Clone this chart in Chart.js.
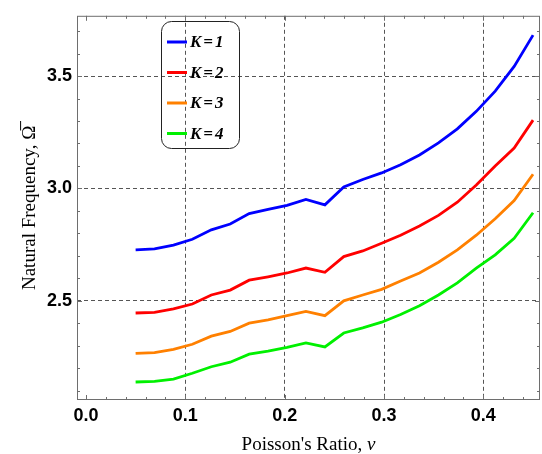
<!DOCTYPE html>
<html>
<head>
<meta charset="utf-8">
<script src="https://cdn.jsdelivr.net/npm/chart.js@4.4.0/dist/chart.umd.min.js"></script>
<style>
  body { margin: 0; background: #fff; }
</style>
</head>
<body>
<canvas id="myChart" width="542" height="454"></canvas>
<script>
// Poisson's ratio samples (x)
const poisson = [0.05, 0.069, 0.0881, 0.1071, 0.1262, 0.1452, 0.1643, 0.1833, 0.2024, 0.2214, 0.2405,
                 0.2595, 0.2786, 0.2976, 0.3167, 0.3357, 0.3548, 0.3738, 0.3929, 0.4119, 0.431, 0.45];

// natural frequency for each K
const freqK1 = [2.727, 2.731, 2.748, 2.774, 2.816, 2.842, 2.888, 2.907, 2.925, 2.951, 2.927,
                3.007, 3.040, 3.069, 3.105, 3.149, 3.203, 3.265, 3.343, 3.433, 3.543, 3.682];
const freqK2 = [2.446, 2.449, 2.464, 2.486, 2.526, 2.548, 2.592, 2.607, 2.624, 2.646, 2.627,
                2.697, 2.722, 2.756, 2.792, 2.833, 2.880, 2.939, 3.015, 3.100, 3.180, 3.304];
const freqK3 = [2.266, 2.270, 2.284, 2.307, 2.343, 2.364, 2.401, 2.415, 2.434, 2.453, 2.434,
                2.500, 2.526, 2.551, 2.588, 2.624, 2.672, 2.727, 2.792, 2.865, 2.946, 3.063];
const freqK4 = [2.139, 2.142, 2.152, 2.178, 2.207, 2.227, 2.263, 2.276, 2.293, 2.313, 2.295,
                2.357, 2.380, 2.405, 2.439, 2.478, 2.526, 2.580, 2.646, 2.705, 2.778, 2.892];

const seriesNames = ['K=1', 'K=2', 'K=3', 'K=4'];
const seriesColors = ['rgb(0,0,255)', 'rgb(255,0,0)', 'rgb(255,128,0)', 'rgb(0,240,0)'];

const xTickValues = [0, 0.1, 0.2, 0.3, 0.4];
const yTickValues = [2.5, 3.0, 3.5];

const toPoints = ys => poisson.map((x, i) => ({ x: x, y: ys[i] }));

// frame round the plot with small ticks on all four sides
const framePlugin = {
    id: 'frame',
    afterDatasetsDraw(chart) {
        const { ctx, chartArea: a, scales: { x, y } } = chart;
        ctx.save();
        ctx.strokeStyle = '#6e6e6e';
        ctx.lineWidth = 1;
        ctx.strokeRect(a.left + 0.5, a.top + 0.5, a.right - a.left - 1, a.bottom - a.top - 1);
        ctx.beginPath();
        for (let i = 0; i <= 22; i++) {
            const px = Math.round(x.getPixelForValue(i * 0.02)) + 0.5;
            const len = i % 5 === 0 ? 5 : 3;
            ctx.moveTo(px, a.bottom); ctx.lineTo(px, a.bottom - len);
            ctx.moveTo(px, a.top); ctx.lineTo(px, a.top + len);
        }
        for (let i = 21; i <= 37; i++) {
            const py = Math.round(y.getPixelForValue(i / 10)) + 0.5;
            const len = i % 5 === 0 ? 5 : 3;
            ctx.moveTo(a.left, py); ctx.lineTo(a.left + len, py);
            ctx.moveTo(a.right, py); ctx.lineTo(a.right - len, py);
        }
        ctx.stroke();

        // x title, with the nu in italics
        const a1 = "Poisson's Ratio, ";
        const a2 = 'ν';
        const cx = (a.left + a.right) / 2;
        ctx.fillStyle = '#000';
        ctx.textBaseline = 'alphabetic';
        ctx.font = '19px "Liberation Serif"';
        const w1 = ctx.measureText(a1).width;
        ctx.font = 'italic 19px "Liberation Serif"';
        const w2 = ctx.measureText(a2).width;
        const x0 = cx - (w1 + w2) / 2;
        ctx.font = '19px "Liberation Serif"';
        ctx.fillText(a1, x0, 450);
        ctx.font = 'italic 19px "Liberation Serif"';
        ctx.fillText(a2, x0 + w1, 450);
        ctx.restore();
    }
};

// legend box drawn inside the plot, no fill
const boxLegend = {
    id: 'boxLegend',
    afterDraw(chart) {
        const ctx = chart.ctx;
        ctx.save();
        ctx.strokeStyle = '#222';
        ctx.lineWidth = 1;
        ctx.beginPath();
        ctx.roundRect(161.5, 21.5, 78, 127, 10);
        ctx.stroke();
        ctx.font = 'italic bold 17px "Liberation Serif"';
        ctx.textBaseline = 'middle';
        ctx.letterSpacing = '2px';
        chart.data.datasets.forEach((ds, i) => {
            const cy = 42 + i * 30.5;
            ctx.strokeStyle = ds.borderColor;
            ctx.lineWidth = 3;
            ctx.beginPath();
            ctx.moveTo(167, cy);
            ctx.lineTo(187, cy);
            ctx.stroke();
            ctx.fillStyle = '#000';
            ctx.fillText(ds.label, 190, cy + 1);
        });
        ctx.restore();
    }
};

const ctx = document.getElementById('myChart');
const chart = new Chart(ctx, {
    type: 'line',
    data: {
        datasets: [freqK1, freqK2, freqK3, freqK4].map((ys, i) => ({
            label: seriesNames[i],
            data: toPoints(ys),
            borderColor: seriesColors[i],
            borderWidth: 2.8,
            pointRadius: 0,
            tension: 0
        }))
    },
    options: {
        responsive: false,
        animation: false,
        layout: { padding: { top: 11, right: 2, left: 0, bottom: 0 } },
        plugins: { legend: { display: false }, tooltip: { enabled: false } },
        scales: {
            x: {
                type: 'linear',
                min: -0.009,
                max: 0.457,
                afterBuildTicks: s => { s.ticks = xTickValues.map(v => ({ value: v })); },
                afterFit: s => { s.height = 54; },
                ticks: {
                    callback: v => v.toFixed(1),
                    color: '#000',
                    font: { family: '"Liberation Sans"', size: 18, weight: 'bold' },
                    padding: 5,
                    maxRotation: 0
                },
                grid: {
                    color: c => (c.tick && c.tick.value === 0) ? 'rgba(0,0,0,0)' : '#555',
                    lineWidth: 1,
                    drawTicks: false
                },
                border: { display: false, dash: [4, 3] },
                title: { display: false }
            },
            y: {
                min: 2.059,
                max: 3.768,
                afterBuildTicks: s => { s.ticks = yTickValues.map(v => ({ value: v })); },
                afterFit: s => { s.width = 77; },
                ticks: {
                    callback: v => v.toFixed(1),
                    color: '#000',
                    font: { family: '"Liberation Sans"', size: 18, weight: 'bold' },
                    padding: 5
                },
                grid: { color: '#555', lineWidth: 1, drawTicks: false },
                border: { display: false, dash: [4, 3] },
                title: {
                    display: true,
                    text: 'Natural Frequency, \u03A9\u0305',
                    color: '#000',
                    font: { family: '"Liberation Serif"', size: 19, lineHeight: 1 },
                    padding: { top: 21, bottom: 0 }
                }
            }
        }
    },
    plugins: [framePlugin, boxLegend]
});
</script>
</body>
</html>
